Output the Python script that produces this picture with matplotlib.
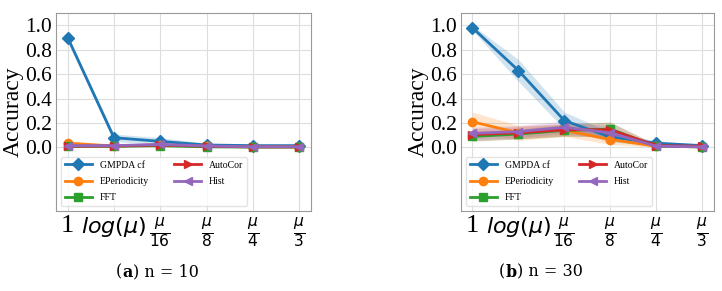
import matplotlib
matplotlib.use("Agg")
import matplotlib.pyplot as plt
from matplotlib.offsetbox import TextArea, HPacker, AnchoredOffsetbox

OUT = "out.png"

x_labels = ["1", r"$log(\mu)$", r"$\frac{\mu}{16}$", r"$\frac{\mu}{8}$", r"$\frac{\mu}{4}$", r"$\frac{\mu}{3}$"]
methods = ["GMPDA cf", "EPeriodicity", "FFT", "AutoCor", "Hist"]
markers = ["D", "o", "s", ">", "<"]
colors = ["#1f77b4", "#ff7f0e", "#2ca02c", "#d62728", "#9467bd"]

# (a) n = 10 : mean accuracy and band half-width per method
mean_a_gmpda = [0.90, 0.08, 0.05, 0.02, 0.015, 0.015]
mean_a_eper = [0.035, 0.012, 0.02, 0.01, 0.005, 0.005]
mean_a_fft = [0.01, 0.01, 0.015, 0.005, 0.003, 0.003]
mean_a_autocor = [0.01, 0.012, 0.02, 0.01, 0.005, 0.005]
mean_a_hist = [0.015, 0.015, 0.025, 0.012, 0.006, 0.006]
sd_a_gmpda = [0.02, 0.03, 0.03, 0.015, 0.01, 0.01]
sd_a_eper = [0.02, 0.01, 0.01, 0.005, 0.005, 0.005]
sd_a_fft = [0.01, 0.008, 0.008, 0.005, 0.003, 0.003]
sd_a_autocor = [0.01, 0.008, 0.01, 0.005, 0.004, 0.004]
sd_a_hist = [0.01, 0.008, 0.01, 0.006, 0.004, 0.004]

# (b) n = 30
mean_b_gmpda = [0.98, 0.63, 0.22, 0.085, 0.035, 0.015]
mean_b_eper = [0.21, 0.12, 0.14, 0.065, 0.01, 0.005]
mean_b_fft = [0.09, 0.11, 0.14, 0.15, 0.01, 0.005]
mean_b_autocor = [0.105, 0.12, 0.145, 0.145, 0.015, 0.01]
mean_b_hist = [0.115, 0.13, 0.165, 0.12, 0.01, 0.005]
sd_b_gmpda = [0.02, 0.09, 0.07, 0.04, 0.02, 0.01]
sd_b_eper = [0.08, 0.06, 0.05, 0.04, 0.01, 0.005]
sd_b_fft = [0.04, 0.04, 0.05, 0.06, 0.01, 0.005]
sd_b_autocor = [0.05, 0.05, 0.05, 0.06, 0.01, 0.005]
sd_b_hist = [0.05, 0.05, 0.05, 0.05, 0.01, 0.005]

plt.rcParams["font.family"] = ["Liberation Serif", "DejaVu Serif"]
plt.rcParams["mathtext.fontset"] = "dejavusans"


def panel(ax, means, sds):
    xs = range(len(x_labels))
    for name, m, c, mu, sd in zip(methods, markers, colors, means, sds):
        lo = [a - b for a, b in zip(mu, sd)]
        hi = [a + b for a, b in zip(mu, sd)]
        ax.fill_between(xs, lo, hi, color=c, alpha=0.2, linewidth=0)
        ax.plot(xs, mu, marker=m, color=c, lw=2, ms=6, label=name)
    ax.set_ylim(-0.52, 1.1)
    ax.set_yticks([0.0, 0.2, 0.4, 0.6, 0.8, 1.0])
    ax.set_yticklabels([f"{v:.1f}" for v in ax.get_yticks()], fontsize=15.5)
    ax.set_xticks(list(xs))
    labels = ax.set_xticklabels(x_labels, fontsize=16)
    labels[0].set_fontsize(19)  # plain "1" is serif text, drawn a bit larger
    ax.tick_params(length=0, pad=3)
    ax.grid(True, color="#dddddd", lw=0.8)
    ax.set_axisbelow(True)
    for s in ax.spines.values():
        s.set_color("#999999")
    ax.set_ylabel("Accuracy", fontsize=17, labelpad=1)
    ax.legend(loc="lower left", ncol=2, fontsize=7, handlelength=2.8, columnspacing=2.6,
              labelspacing=0.75, borderaxespad=0.5, framealpha=0.8, edgecolor="#dddddd")


def caption(fig, x, letter, rest):
    parts = [TextArea("(", textprops=dict(fontsize=11.5, family="DejaVu Serif")),
             TextArea(letter, textprops=dict(fontsize=11.5, family="DejaVu Serif", weight="bold")),
             TextArea(rest, textprops=dict(fontsize=11.5, family="DejaVu Serif"))]
    box = HPacker(children=parts, align="baseline", pad=0, sep=0)
    anchored = AnchoredOffsetbox(loc="center", child=box, frameon=False, pad=0,
                                 bbox_to_anchor=(x, 0.065), bbox_transform=fig.transFigure)
    fig.add_artist(anchored)


def main():
    fig = plt.figure(figsize=(7.22, 2.91), dpi=100)
    ax_a = fig.add_axes([0.0776, 0.275, 0.353, 0.680])
    ax_b = fig.add_axes([0.6385, 0.275, 0.350, 0.680])
    panel(ax_a, [mean_a_gmpda, mean_a_eper, mean_a_fft, mean_a_autocor, mean_a_hist],
          [sd_a_gmpda, sd_a_eper, sd_a_fft, sd_a_autocor, sd_a_hist])
    panel(ax_b, [mean_b_gmpda, mean_b_eper, mean_b_fft, mean_b_autocor, mean_b_hist],
          [sd_b_gmpda, sd_b_eper, sd_b_fft, sd_b_autocor, sd_b_hist])
    caption(fig, 0.218, "a", ") n = 10")
    caption(fig, 0.749, "b", ") n = 30")
    fig.savefig(OUT, dpi=100)


if __name__ == "__main__":
    main()
